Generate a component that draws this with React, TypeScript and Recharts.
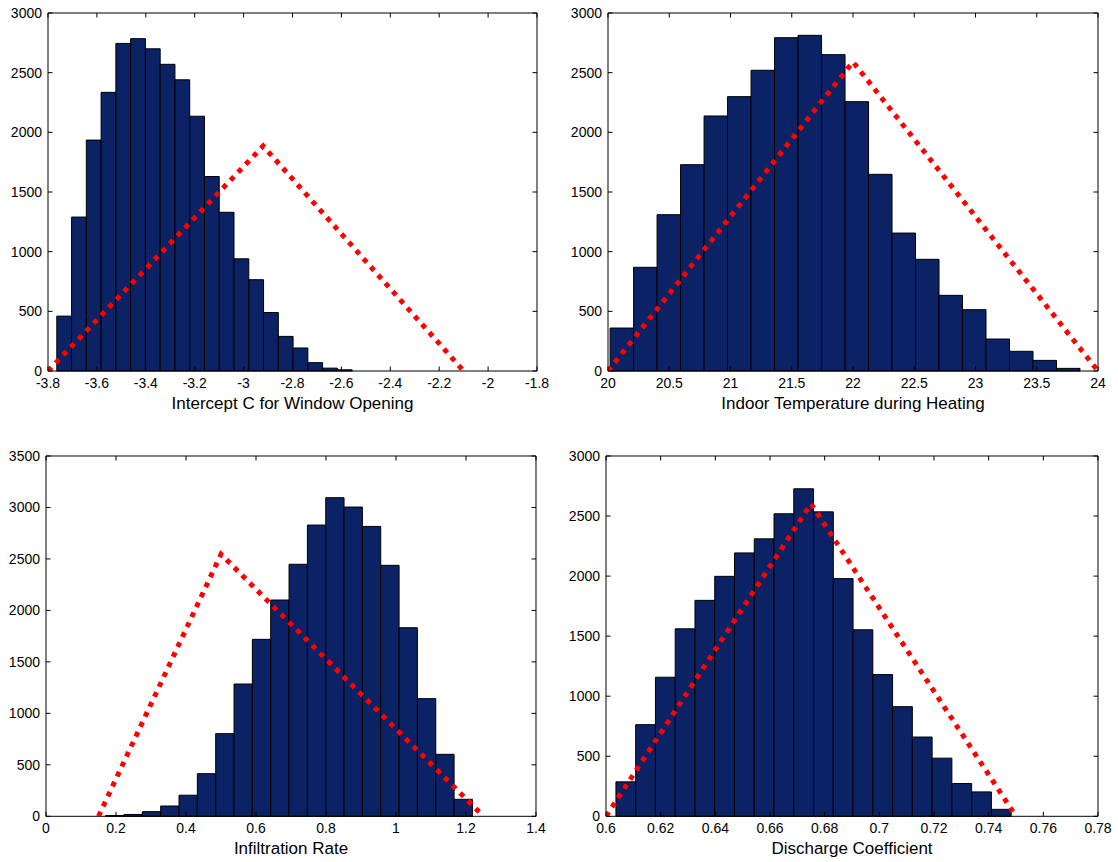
import React from 'react';
import { ComposedChart, XAxis, YAxis, Line, ReferenceArea } from 'recharts';

const FONT = '"Liberation Sans", Arial, Helvetica, sans-serif';
const BAR_FILL = '#0b2264';
const TRI_COLOR = '#ff0000';

// ---- Panel 1: Intercept C for Window Opening ----
const p1Counts = [460, 1290, 1935, 2335, 2745, 2785, 2700, 2570, 2440, 2135, 1630, 1330, 940, 765, 490, 290, 193, 70, 24, 10];
const p1BinStart = -3.764;
const p1BinWidth = 0.0604;
const p1TriX = [-3.8, -2.92, -2.1];
const p1TriY = [0, 1885, 0];
const p1XTicks = [-3.8, -3.6, -3.4, -3.2, -3, -2.8, -2.6, -2.4, -2.2, -2, -1.8];
const p1YTicks = [0, 500, 1000, 1500, 2000, 2500, 3000];

// ---- Panel 2: Indoor Temperature during Heating ----
const p2Counts = [360, 869, 1310, 1729, 2137, 2299, 2520, 2793, 2813, 2651, 2257, 1648, 1156, 936, 634, 514, 268, 165, 89, 22];
const p2BinStart = 20.017;
const p2BinWidth = 0.1918;
const p2TriX = [20, 22, 24];
const p2TriY = [0, 2590, 0];
const p2XTicks = [20, 20.5, 21, 21.5, 22, 22.5, 23, 23.5, 24];
const p2YTicks = [0, 500, 1000, 1500, 2000, 2500, 3000];

// ---- Panel 3: Infiltration Rate ----
const p3Counts = [8, 18, 45, 100, 205, 414, 803, 1285, 1719, 2101, 2448, 2829, 3095, 3004, 2816, 2438, 1832, 1143, 602, 165];
const p3BinStart = 0.1704;
const p3BinWidth = 0.0524;
const p3TriX = [0.15, 0.5, 1.25];
const p3TriY = [0, 2545, 0];
const p3XTicks = [0, 0.2, 0.4, 0.6, 0.8, 1, 1.2, 1.4];
const p3YTicks = [0, 500, 1000, 1500, 2000, 2500, 3000, 3500];

// ---- Panel 4: Discharge Coefficient ----
const p4Counts = [287, 763, 1158, 1561, 1798, 1998, 2193, 2310, 2519, 2727, 2535, 1979, 1553, 1180, 913, 660, 484, 273, 203, 58];
const p4BinStart = 0.60363;
const p4BinWidth = 0.00723;
const p4TriX = [0.6, 0.675, 0.75];
const p4TriY = [0, 2602, 0];
const p4XTicks = [0.6, 0.62, 0.64, 0.66, 0.68, 0.7, 0.72, 0.74, 0.76, 0.78];
const p4YTicks = [0, 500, 1000, 1500, 2000, 2500, 3000];

type Spec = {
  title: string;
  counts: number[];
  binStart: number;
  binWidth: number;
  triX: number[];
  triY: number[];
  xTicks: number[];
  yTicks: number[];
  plotLeft: number;
  plotTop: number;
  plotW: number;
  plotH: number;
};

const PANELS: Spec[] = [
  { title: 'Intercept C for Window Opening', counts: p1Counts, binStart: p1BinStart, binWidth: p1BinWidth, triX: p1TriX, triY: p1TriY, xTicks: p1XTicks, yTicks: p1YTicks, plotLeft: 48, plotTop: 12.7, plotW: 489, plotH: 358 },
  { title: 'Indoor Temperature during Heating', counts: p2Counts, binStart: p2BinStart, binWidth: p2BinWidth, triX: p2TriX, triY: p2TriY, xTicks: p2XTicks, yTicks: p2YTicks, plotLeft: 608, plotTop: 12.7, plotW: 490, plotH: 358 },
  { title: 'Infiltration Rate', counts: p3Counts, binStart: p3BinStart, binWidth: p3BinWidth, triX: p3TriX, triY: p3TriY, xTicks: p3XTicks, yTicks: p3YTicks, plotLeft: 46, plotTop: 455.7, plotW: 490, plotH: 360.3 },
  { title: 'Discharge Coefficient', counts: p4Counts, binStart: p4BinStart, binWidth: p4BinWidth, triX: p4TriX, triY: p4TriY, xTicks: p4XTicks, yTicks: p4YTicks, plotLeft: 606, plotTop: 455.7, plotW: 492, plotH: 360.3 },
];

const ML = 60;
const MT = 8;
const MR = 30;
const XH = 60;
const TICK_MARGIN = 7;
const TL = 4.5;

function Panel({ spec }: { spec: Spec }) {
  const { plotLeft, plotTop, plotW, plotH } = spec;
  const xDomain: [number, number] = [spec.xTicks[0], spec.xTicks[spec.xTicks.length - 1]];
  const yDomain: [number, number] = [spec.yTicks[0], spec.yTicks[spec.yTicks.length - 1]];
  const lineData = spec.triX.map((x, i) => ({ x, y: spec.triY[i] }));

  const xTick = (props: any) => {
    const { x, y, payload } = props;
    const axisY = y - TICK_MARGIN;
    return (
      <g>
        <line x1={x} y1={axisY} x2={x} y2={axisY - TL} stroke="#000" strokeWidth={1} />
        <line x1={x} y1={axisY - plotH} x2={x} y2={axisY - plotH + TL} stroke="#000" strokeWidth={1} />
        <text x={x} y={y} dy="0.71em" textAnchor="middle" fontSize={14} fontFamily={FONT} fill="#000">
          {String(payload.value)}
        </text>
      </g>
    );
  };

  const yTick = (props: any) => {
    const { x, y, payload } = props;
    const axisX = x + 6;
    return (
      <g>
        <line x1={axisX} y1={y} x2={axisX + TL} y2={y} stroke="#000" strokeWidth={1} />
        <line x1={axisX + plotW} y1={y} x2={axisX + plotW - TL} y2={y} stroke="#000" strokeWidth={1} />
        <text x={x} y={y} dy="0.355em" textAnchor="end" fontSize={14} fontFamily={FONT} fill="#000">
          {String(payload.value)}
        </text>
      </g>
    );
  };

  return (
    <div style={{ position: 'absolute', left: plotLeft - ML, top: plotTop - MT }}>
      <ComposedChart
        width={plotW + ML + MR}
        height={plotH + MT + XH}
        data={lineData}
        margin={{ top: MT, right: MR, bottom: 0, left: 0 }}
        style={{ fontFamily: FONT }}
      >
        <XAxis
          dataKey="x"
          type="number"
          domain={xDomain}
          ticks={spec.xTicks}
          interval={0}
          allowDataOverflow
          axisLine={false}
          tickLine={false}
          tickSize={0}
          tickMargin={TICK_MARGIN}
          height={XH}
          tick={xTick}
          label={{ value: spec.title, position: 'insideBottom', offset: XH - 38, fontSize: 17, fill: '#000', fontFamily: FONT }}
        />
        <YAxis
          type="number"
          domain={yDomain}
          ticks={spec.yTicks}
          interval={0}
          allowDataOverflow
          axisLine={false}
          tickLine={false}
          tickSize={0}
          tickMargin={6}
          width={ML}
          tick={yTick}
        />
        {spec.counts.map((c, i) => {
          const x1 = spec.binStart + i * spec.binWidth;
          return (
            <ReferenceArea
              key={i}
              x1={x1}
              x2={x1 + spec.binWidth}
              y1={0}
              y2={c}
              fill={BAR_FILL}
              fillOpacity={1}
              stroke="#000"
              strokeWidth={1}
              ifOverflow="visible"
            />
          );
        })}
        <ReferenceArea
          x1={xDomain[0]}
          x2={xDomain[1]}
          y1={yDomain[0]}
          y2={yDomain[1]}
          fill="none"
          fillOpacity={0}
          stroke="#000"
          strokeWidth={1}
          ifOverflow="visible"
        />
        <Line
          dataKey="y"
          type="linear"
          stroke={TRI_COLOR}
          strokeWidth={5}
          strokeDasharray="5 6"
          dot={false}
          activeDot={false}
          isAnimationActive={false}
        />
      </ComposedChart>
    </div>
  );
}

export default function App() {
  return (
    <div style={{ position: 'absolute', left: 0, top: 0, width: 1118, height: 862, background: '#fff', overflow: 'hidden' }}>
      {PANELS.map((p, i) => (
        <Panel key={i} spec={p} />
      ))}
    </div>
  );
}
